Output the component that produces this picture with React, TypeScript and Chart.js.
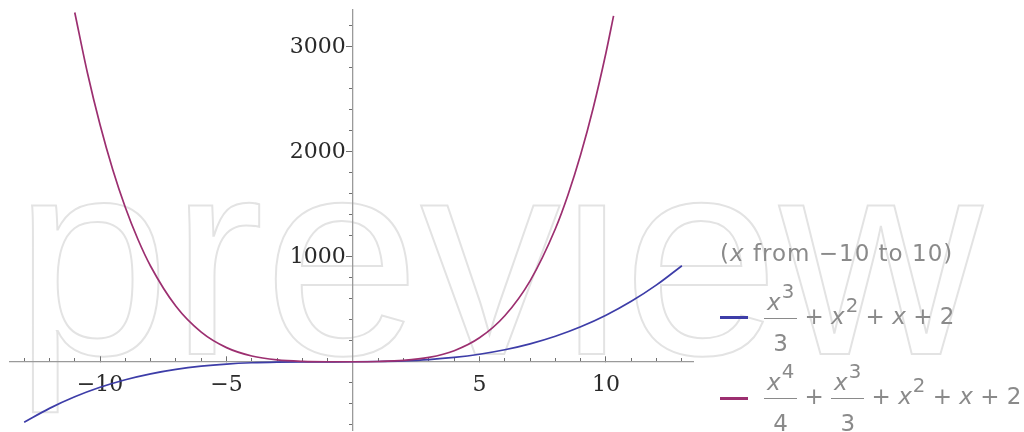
import React, { useEffect, useRef } from "react";
import { Chart, registerables } from "chart.js";

Chart.register(...registerables);

// ---- data ----
const blueX = [-13, -12, -11, -10, -9, -8, -7, -6, -5, -4, -3, -2, -1, 0, 1, 2, 3, 4, 5, 6, 7, 8, 9, 10, 11, 12, 13];
const blueY = [-574.3, -442, -331.7, -241.3, -169, -112.7, -70.3, -40, -19.7, -7.3, -1, 1.3, 1.7, 2, 4.3, 10.7, 23, 43.3, 73.7, 116, 172.3, 244.7, 335, 445.3, 577.7, 734, 916.3];

const purpleX = [-11, -10.5, -10, -9.5, -9, -8.5, -8, -7, -6, -5, -4, -3, -2, -1, 0, 1, 2, 3, 4, 5, 6, 7, 8, 8.5, 9, 9.5, 10, 10.3];
const purpleY = [3328.6, 2754.6, 2258.7, 1833.2, 1471.3, 1166.1, 911.3, 529.9, 284, 136.6, 56.7, 19.3, 5.3, 1.9, 2, 4.6, 14.7, 43.3, 107.3, 229.9, 440, 772.6, 1268.7, 1592.5, 1975.3, 2423.8, 2945.3, 3296.4];

const xMajorTicks = [-10, -5, 5, 10];
const xTickLabels = ["\u221210", "\u22125", "5", "10"];
const xMinorTicks = [-13, -12, -11, -10, -9, -8, -7, -6, -5, -4, -3, -2, -1, 1, 2, 3, 4, 5, 6, 7, 8, 9, 10, 11, 12, 13];

const yMajorTicks = [1000, 2000, 3000];
const yTickLabels = ["1000", "2000", "3000"];
const yMinorTicks = [-600, -400, -200, 200, 400, 600, 800, 1200, 1400, 1600, 1800, 2200, 2400, 2600, 2800, 3200];

const legendTitle = ["(", "x", " from \u221210 to 10)"];
const watermark = "preview";

// ---- style ----
const BLUE = "#3d3da8";
const PURPLE = "#9c2f70";
const AXIS = "#9a9a9a";
const TICK = "#6f6f6f";
const LEGEND_GRAY = "#8a8a8a";
const SANS = "'DejaVu Sans', sans-serif";
const SERIF = "'DejaVu Serif', 'Liberation Serif', serif";

const X = () => <span style={{ fontStyle: "italic" }}>x</span>;
const Sup = ({ children }: { children: React.ReactNode }) => (
  <span style={{ fontSize: "0.86em", position: "relative", top: "-0.6em", marginLeft: 1 }}>{children}</span>
);

const Frac = ({ power, den }: { power: string; den: string }) => (
  <span style={{ display: "inline-flex", flexDirection: "column", alignItems: "stretch" }}>
    <span style={{ height: 36, display: "flex", alignItems: "flex-end", justifyContent: "center", boxSizing: "border-box", padding: "0 3px 3px 3px" }}>
      <span>
        <X />
        <Sup>{power}</Sup>
      </span>
    </span>
    <span style={{ height: 1.3, background: LEGEND_GRAY }} />
    <span style={{ height: 36, display: "flex", alignItems: "flex-end", justifyContent: "center" }}>
      <span>{den}</span>
    </span>
  </span>
);

const Tail = () => (
  <span style={{ position: "relative", top: -2 }}>
    {" + "}
    <X />
    <Sup>2</Sup>
    {" + "}
    <X />
    {" + 2"}
  </span>
);

const zeroFit = (horizontal: boolean) => (s: any) => {
  if (horizontal) s.height = 0;
  else s.width = 0;
  s.paddingTop = 0;
  s.paddingBottom = 0;
  s.paddingLeft = 0;
  s.paddingRight = 0;
};

export default function App() {
  const ref = useRef<HTMLCanvasElement>(null);

  useEffect(() => {
    const canvas = ref.current!;
    const tickFont = { family: SERIF, size: 22 };
    const chart = new Chart(canvas, {
      type: "line",
      data: {
        datasets: [
          {
            label: "x^3/3 + x^2 + x + 2",
            data: blueX.map((x, i) => ({ x, y: blueY[i] })),
            borderColor: BLUE,
            borderWidth: 1.7,
            pointRadius: 0,
            cubicInterpolationMode: "monotone",
            xAxisID: "x",
            yAxisID: "y",
            order: 1,
          },
          {
            label: "x^4/4 + x^3/3 + x^2 + x + 2",
            data: purpleX.map((x, i) => ({ x, y: purpleY[i] })),
            borderColor: PURPLE,
            borderWidth: 1.7,
            pointRadius: 0,
            cubicInterpolationMode: "monotone",
            xAxisID: "x",
            yAxisID: "y",
            order: 0,
          },
        ],
      },
      options: {
        responsive: false,
        animation: false,
        devicePixelRatio: 1,
        events: [],
        layout: { padding: { left: 10, right: 331, top: 10, bottom: 2 } },
        plugins: { legend: { display: false }, tooltip: { enabled: false } },
        scales: {
          x: {
            type: "linear",
            min: -13.56,
            max: 13.44,
            position: { y: 0 },
            afterBuildTicks: (s: any) => {
              s.ticks = xMajorTicks.map((v) => ({ value: v }));
            },
            afterFit: zeroFit(true),
            border: { display: true, color: AXIS, width: 1.3 },
            grid: { drawOnChartArea: false, drawTicks: true, tickLength: -6, tickColor: TICK, tickWidth: 1 },
            ticks: {
              font: tickFont,
              color: "#2a2a2a",
              padding: 16,
              maxRotation: 0,
              autoSkip: false,
              callback: (v: any) => xTickLabels[xMajorTicks.indexOf(Number(v))],
            },
          },
          xMinor: {
            type: "linear",
            min: -13.56,
            max: 13.44,
            position: { y: 0 },
            afterBuildTicks: (s: any) => {
              s.ticks = xMinorTicks.map((v) => ({ value: v }));
            },
            afterFit: zeroFit(true),
            border: { display: false },
            grid: { drawOnChartArea: false, drawTicks: true, tickLength: -4, tickColor: TICK, tickWidth: 1 },
            ticks: { display: false },
          },
          y: {
            type: "linear",
            min: -648,
            max: 3352,
            position: { x: 0 },
            afterBuildTicks: (s: any) => {
              s.ticks = yMajorTicks.map((v) => ({ value: v }));
            },
            afterFit: zeroFit(false),
            border: { display: true, color: AXIS, width: 1.3 },
            grid: { drawOnChartArea: false, drawTicks: true, tickLength: 6, tickColor: TICK, tickWidth: 1 },
            ticks: {
              font: tickFont,
              color: "#2a2a2a",
              autoSkip: false,
              callback: (v: any) => yTickLabels[yMajorTicks.indexOf(Number(v))] + "\u2004",
            },
          },
          yMinor: {
            type: "linear",
            min: -648,
            max: 3352,
            position: { x: 0 },
            afterBuildTicks: (s: any) => {
              s.ticks = yMinorTicks.map((v) => ({ value: v }));
            },
            afterFit: zeroFit(false),
            border: { display: false },
            grid: { drawOnChartArea: false, drawTicks: true, tickLength: 4, tickColor: TICK, tickWidth: 1 },
            ticks: { display: false },
          },
        },
      },
    } as any);
    return () => chart.destroy();
  }, []);

  const legendRow: React.CSSProperties = {
    position: "absolute",
    left: 720,
    display: "flex",
    alignItems: "center",
    fontFamily: SANS,
    fontSize: 23,
    lineHeight: "23px",
    color: LEGEND_GRAY,
    whiteSpace: "pre",
  };

  return (
    <div style={{ position: "fixed", left: 0, top: 0, width: 1024, height: 432, background: "#fff", overflow: "hidden" }}>
      <div style={{ position: "absolute", left: 0, top: 196, width: 1024, height: 236, overflow: "hidden" }}>
        <span
          style={{
            position: "absolute",
            left: 14,
            top: 117 - 196,
            fontFamily: "'Liberation Sans', Arial, sans-serif",
            fontSize: 281,
            lineHeight: "281px",
            color: "transparent",
            WebkitTextStroke: "2px #e3e3e3",
            letterSpacing: 0,
            whiteSpace: "pre",
          }}
        >
          {watermark}
        </span>
      </div>
      <canvas ref={ref} width={1024} height={432} style={{ position: "absolute", left: 0, top: 0 }} />
      <div
        style={{
          position: "absolute",
          left: 720,
          top: 242,
          fontFamily: SANS,
          fontSize: 23,
          lineHeight: "23px",
          color: LEGEND_GRAY,
          letterSpacing: 1,
          whiteSpace: "pre",
        }}
      >
        {legendTitle[0]}
        <span style={{ fontStyle: "italic" }}>{legendTitle[1]}</span>
        {legendTitle[2]}
      </div>
      <div style={{ ...legendRow, top: 282 }}>
        <span style={{ width: 28, height: 3, background: BLUE, marginRight: 16, position: "relative", top: -1 }} />
        <Frac power="3" den="3" />
        <Tail />
      </div>
      <div style={{ ...legendRow, top: 362 }}>
        <span style={{ width: 28, height: 3, background: PURPLE, marginRight: 16 }} />
        <Frac power="4" den="4" />
        <span style={{ position: "relative", top: -2 }}>{" + "}</span>
        <Frac power="3" den="3" />
        <Tail />
      </div>
    </div>
  );
}
